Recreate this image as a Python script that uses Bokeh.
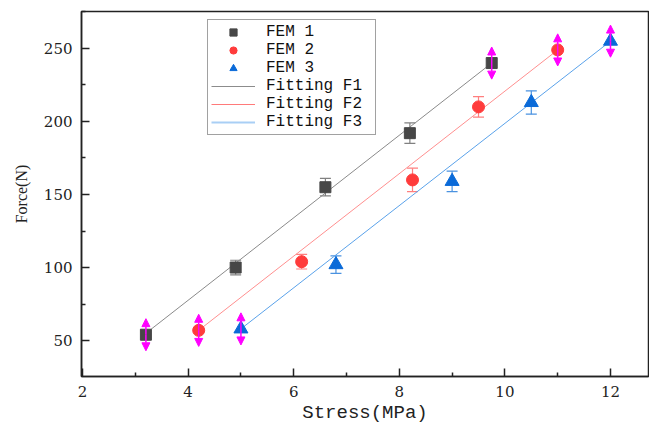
from bokeh.plotting import figure
from bokeh.models import (ColumnDataSource, Whisker, TeeHead, Arrow, NormalHead,
                          Legend, LegendItem, FixedTicker, Range1d)
from bokeh.embed import file_html
from bokeh.resources import INLINE

# ---- data ----
fem1_x = [3.2, 4.9, 6.6, 8.2, 9.75]
fem1_y = [54, 100, 155, 192, 240]
fem1_err = [0, 5, 6, 7, 0]

fem2_x = [4.2, 6.15, 8.25, 9.5, 11.0]
fem2_y = [57, 104, 160, 210, 249]
fem2_err = [0, 5, 8, 7, 0]

fem3_x = [5.0, 6.8, 9.0, 10.5, 12.0]
fem3_y = [58, 102, 159, 213, 255]
fem3_err = [0, 6, 7, 8, 0]

fit1_x = [3.2, 9.75]
fit1_y = [55, 240]
fit2_x = [4.2, 11.0]
fit2_y = [57, 249]
fit3_x = [5.0, 12.0]
fit3_y = [58, 255]

arrow_half = 11  # half length of the magenta double arrows (N)

x_ticks = [2, 4, 6, 8, 10, 12]
x_minor = [3, 5, 7, 9, 11]
y_ticks = [50, 100, 150, 200, 250]
y_minor = [25, 75, 125, 175, 225, 275]

labels = ["FEM 1", "FEM 2", "FEM 3", "Fitting F1", "Fitting F2", "Fitting F3"]

MONO = "Liberation Mono"
SERIF = "Liberation Serif"
TICKF = "DejaVu Serif"

p = figure(width=649, height=427, output_backend="svg", toolbar_location=None,
           x_range=Range1d(1.98, 12.72), y_range=Range1d(25.4, 275.3),
           min_border_left=81, min_border_right=1, min_border_top=11,
           min_border_bottom=51)
p.grid.visible = False
p.outline_line_color = "#222222"
p.outline_line_width = 1.5
p.background_fill_color = "white"
p.border_fill_color = "white"

for ax in (p.xaxis[0], p.yaxis[0]):
    ax.axis_line_width = 1.5
    ax.axis_line_color = "#222222"
    ax.major_tick_in = 8
    ax.major_tick_out = 0
    ax.minor_tick_in = 4
    ax.minor_tick_out = 0
    ax.major_tick_line_width = 1.5
    ax.minor_tick_line_width = 1.5
    ax.major_tick_line_color = "#222222"
    ax.minor_tick_line_color = "#222222"
    ax.major_label_text_font = TICKF
    ax.major_label_text_font_size = "15px"
    ax.major_label_text_color = "#222222"

p.xaxis.ticker = FixedTicker(ticks=x_ticks, minor_ticks=x_minor)
p.yaxis.ticker = FixedTicker(ticks=y_ticks, minor_ticks=y_minor)
p.xaxis.major_label_standoff = 9
p.yaxis.major_label_standoff = 9

p.xaxis.axis_label = "Stress(MPa)"
p.xaxis.axis_label_text_font = MONO
p.xaxis.axis_label_text_font_size = "19px"
p.xaxis.axis_label_text_font_style = "normal"
p.xaxis.axis_label_standoff = 2
p.xaxis.axis_label_text_color = "#222222"

p.yaxis.axis_label = "Force(N)"
p.yaxis.axis_label_text_font = SERIF
p.yaxis.axis_label_text_font_size = "16px"
p.yaxis.axis_label_text_font_style = "normal"
p.yaxis.axis_label_standoff = 11
p.yaxis.axis_label_text_color = "#222222"

series = [
    (fem1_x, fem1_y, fem1_err, "#474747", "#808080", "#8a8a8a", "square", 11, 9, fit1_x, fit1_y, "#8c8c8c", 1),
    (fem2_x, fem2_y, fem2_err, "#FF3B3B", "#FF7F7F", "#FF8f8f", "circle", 12, 10, fit2_x, fit2_y, "#FF7A7A", 1),
    (fem3_x, fem3_y, fem3_err, "#0A6AD8", "#4A92E0", "#5AA2EA", "triangle", 14, 12, fit3_x, fit3_y, "#A9CFF5", 2),
]

mark_leg = []
line_leg = []
for xs, ys, errs, mcol, ecol, lcol, marker, size, lsize, fx, fy, legcol, lw in series:
    p.line(fx, fy, line_color=lcol, line_width=1)
    # error bars on the middle points
    ex = [x for x, e in zip(xs, errs) if e > 0]
    ey = [y for y, e in zip(ys, errs) if e > 0]
    ee = [e for e in errs if e > 0]
    src = ColumnDataSource(dict(x=ex, lo=[y - e for y, e in zip(ey, ee)],
                                hi=[y + e for y, e in zip(ey, ee)]))
    w = Whisker(source=src, base="x", lower="lo", upper="hi",
                line_color=ecol, line_width=1.2,
                upper_head=TeeHead(size=11, line_color=ecol, line_width=1.2),
                lower_head=TeeHead(size=11, line_color=ecol, line_width=1.2))
    p.add_layout(w)
    p.scatter(xs, ys, marker=marker, size=size, fill_color=mcol,
              line_color=mcol, line_width=1)
    # legend proxies (no visible data)
    mark_leg.append(p.scatter([float("nan")], [float("nan")], marker=marker,
                              size=lsize, fill_color=mcol, line_color=mcol))
    line_leg.append(p.line([float("nan")], [float("nan")], line_color=legcol,
                           line_width=lw))
    # magenta double arrows at first and last points
    for i in (0, len(xs) - 1):
        for d in (1, -1):
            p.add_layout(Arrow(x_start=xs[i], y_start=ys[i], x_end=xs[i],
                               y_end=ys[i] + d * arrow_half,
                               line_color="#FF00FF", line_width=1.5,
                               end=NormalHead(size=8, fill_color="#FF00FF",
                                              line_color="#FF00FF")))

items = [LegendItem(label=labels[i], renderers=[mark_leg[i]]) for i in range(3)]
items += [LegendItem(label=labels[3 + i], renderers=[line_leg[i]]) for i in range(3)]

legend = Legend(items=items, location=(126, 241), orientation="vertical",
                label_text_font=MONO, label_text_font_size="16px",
                label_text_color="#111111",
                glyph_width=44, glyph_height=18, label_height=18, label_width=106,
                spacing=0, padding=3, margin=0, label_standoff=11,
                border_line_color="#444444", border_line_width=1.2,
                background_fill_alpha=1)
p.add_layout(legend)

open("out.html", "w").write(file_html(p, INLINE))
